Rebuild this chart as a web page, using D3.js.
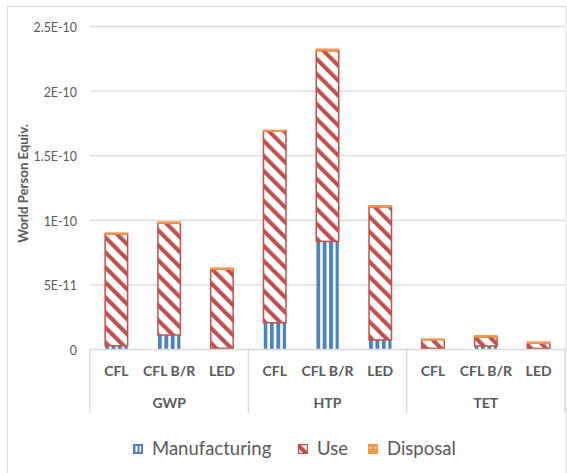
<!DOCTYPE html>
<html lang="en">
<head>
<meta charset="utf-8">
<title>World Person Equiv.</title>
<script src="https://d3js.org/d3.v7.min.js"></script>
<style>
body { margin: 0; background: #fff; }
text { font-family: Lato, "Open Sans", sans-serif; fill: #595959; }
</style>
</head>
<body>
<script>
// data
const groups = ["GWP", "HTP", "TET"];
const lamps = ["CFL", "CFL B/R", "LED"];
const seriesNames = ["Manufacturing", "Use", "Disposal"];
const manufacturing = [2.5e-12, 10.8e-12, 0.5e-12, 20.3e-12, 83.3e-12, 7e-12, 0.5e-12, 2.3e-12, 0.4e-12];
const use = [86.5e-12, 86.5e-12, 61.2e-12, 148.5e-12, 147.6e-12, 103e-12, 6.8e-12, 7e-12, 4e-12];
const disposal = [0.8e-12, 1e-12, 1e-12, 0.5e-12, 1.2e-12, 1e-12, 0.3e-12, 1e-12, 1e-12];
const yTicks = [0, 5e-11, 1e-10, 1.5e-10, 2e-10, 2.5e-10];
const yTickLabels = ["0", "5E-11", "1E-10", "1.5E-10", "2E-10", "2.5E-10"];

const W = 567, H = 473;
const mLeft = 90, mRight = 565, mTop = 26, mBottom = 349;

const blue = "#4F81BD", red = "#C0504D", orange = "#F79646", grid = "#D9D9D9";

// table for d3.stack
const rows = [];
groups.forEach((g, gi) => lamps.forEach((l, li) => {
    const i = gi * 3 + li;
    rows.push({group: g, lamp: l, Manufacturing: manufacturing[i], Use: use[i], Disposal: disposal[i]});
}));

const svg = d3.select("body").append("svg")
    .attr("width", W).attr("height", H);

// patterns
const defs = svg.append("defs");
// vertical stripes, tile starts at each bar's left edge
const pm = defs.append("pattern").attr("id", "pManu")
    .attr("patternUnits", "objectBoundingBox").attr("width", 0.2857).attr("height", 1);
pm.append("rect").attr("width", 20).attr("height", 1000).attr("fill", "#fff");
pm.append("rect").attr("width", 3.9).attr("height", 1000).attr("fill", blue);

const pu = defs.append("pattern").attr("id", "pUse")
    .attr("patternUnits", "userSpaceOnUse").attr("width", 10.6).attr("height", 10)
    .attr("patternTransform", "rotate(-45)");
pu.append("rect").attr("width", 10.6).attr("height", 10).attr("fill", "#fff");
pu.append("rect").attr("width", 4.1).attr("height", 10).attr("fill", red);

const pd = defs.append("pattern").attr("id", "pDisp")
    .attr("patternUnits", "userSpaceOnUse").attr("width", 6).attr("height", 6);
pd.append("rect").attr("width", 6).attr("height", 6).attr("fill", orange);
pd.append("rect").attr("x", 3).attr("y", 3).attr("width", 1.5).attr("height", 1.5).attr("fill", "#fff");

const fills = {Manufacturing: "url(#pManu)", Use: "url(#pUse)", Disposal: "url(#pDisp)"};
const strokes = {Manufacturing: "none", Use: red, Disposal: orange};

// chart border
svg.append("rect")
    .attr("x", 7.5).attr("y", 6.5).attr("width", 558.5).attr("height", H + 10)
    .attr("fill", "none").attr("stroke", grid);

// scales
const x0 = d3.scaleBand().domain(groups).range([mLeft, mRight]);
const x1 = d3.scaleBand().domain(lamps).range([0, x0.bandwidth()])
    .paddingInner(0.574).paddingOuter(0.287);
const y = d3.scaleLinear().domain([0, 2.5e-10]).range([mBottom, mTop]);

// y axis with gridlines
const yAxis = d3.axisLeft(y)
    .tickValues(yTicks)
    .tickFormat((d, i) => yTickLabels[i])
    .tickSize(-(mRight - mLeft))
    .tickPadding(13);
const gy = svg.append("g")
    .attr("transform", "translate(" + mLeft + ",0)")
    .call(yAxis);
gy.select(".domain").remove();
gy.selectAll(".tick line").attr("stroke", grid).attr("stroke-width", 1.3)
    .filter(d => d === 0).remove();
gy.selectAll(".tick text").attr("font-size", 12.4).attr("fill", "#595959")
    .attr("dy", "0.45em")
    .style("font-family", "Lato, sans-serif");

// axis title
svg.append("text")
    .attr("transform", "translate(27.5," + ((mTop + mBottom) / 2 - 4) + ") rotate(-90)")
    .attr("text-anchor", "middle")
    .attr("font-size", 13.2).attr("font-weight", "bold")
    .text("World Person Equiv.");

// bars
const stacked = d3.stack().keys(seriesNames)(rows);
stacked.forEach(layer => {
    svg.append("g").selectAll("rect")
        .data(layer)
        .join("rect")
        .attr("x", d => x0(d.data.group) + x1(d.data.lamp))
        .attr("width", x1.bandwidth())
        .attr("y", d => y(d[1]))
        .attr("height", d => Math.max(0.8, y(d[0]) - y(d[1])))
        .attr("fill", fills[layer.key])
        .attr("stroke", strokes[layer.key])
        .attr("stroke-width", layer.key === "Use" ? 1.5 : 1.2);
});

// category axis
const ax = svg.append("g");
ax.append("line")
    .attr("x1", mLeft).attr("x2", mRight).attr("y1", mBottom + 0.5).attr("y2", mBottom + 0.5)
    .attr("stroke", grid).attr("stroke-width", 1.3);
const seps = groups.map(g => x0(g)).concat([x0(groups[groups.length - 1]) + x0.bandwidth()]);
ax.selectAll(".sep")
    .data(seps)
    .join("line")
    .attr("x1", d => d).attr("x2", d => d)
    .attr("y1", mBottom).attr("y2", 413)
    .attr("stroke", grid).attr("stroke-width", 1.3);
ax.selectAll(".lamp")
    .data(rows)
    .join("text")
    .attr("x", d => x0(d.group) + x1(d.lamp) + x1.bandwidth() / 2)
    .attr("y", 375.5)
    .attr("text-anchor", "middle")
    .attr("font-size", 14).attr("font-weight", "bold")
    .text(d => d.lamp);
ax.selectAll(".grp")
    .data(groups)
    .join("text")
    .attr("x", d => x0(d) + x0.bandwidth() / 2)
    .attr("y", 407.7)
    .attr("text-anchor", "middle")
    .attr("font-size", 14).attr("font-weight", "bold")
    .text(d => d);

// legend
const legX = [133, 298, 368];
const lg = svg.append("g");
seriesNames.forEach((s, i) => {
    if (s === "Manufacturing") {
        lg.append("rect")
            .attr("x", legX[i] + 0.6).attr("y", 444.6).attr("width", 8.8).attr("height", 8.8)
            .attr("fill", blue).attr("stroke", blue).attr("stroke-width", 1.2);
        lg.append("rect")
            .attr("x", legX[i] + 2.5).attr("y", 446).attr("width", 2).attr("height", 6)
            .attr("fill", "#fff");
        lg.append("rect")
            .attr("x", legX[i] + 6.5).attr("y", 446).attr("width", 1.5).attr("height", 6)
            .attr("fill", "#fff");
    } else {
        lg.append("rect")
            .attr("x", legX[i] + 0.6).attr("y", 444.6).attr("width", 8.8).attr("height", 8.8)
            .attr("fill", fills[s])
            .attr("stroke", strokes[s])
            .attr("stroke-width", 1.2);
    }
    lg.append("text")
        .attr("x", legX[i] + 19).attr("y", 454.5)
        .attr("font-size", 18.5)
        .text(s);
});
</script>
</body>
</html>
